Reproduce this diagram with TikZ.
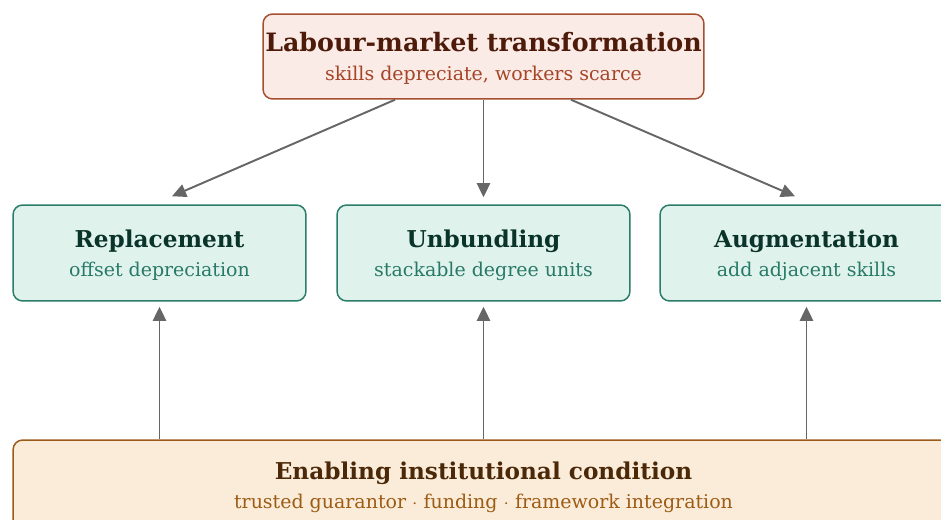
\documentclass[tikz,border=0pt]{standalone}
\usepackage{fontspec}
\setmainfont{DejaVu Serif}
\usetikzlibrary{arrows.meta,calc}
\definecolor{causefill}{RGB}{250, 235, 230}
\definecolor{causeline}{RGB}{166, 78, 48}
\definecolor{causetitle}{RGB}{78, 26, 10}
\definecolor{causetext}{RGB}{166, 68, 40}
\definecolor{pathfill}{RGB}{224, 242, 236}
\definecolor{pathline}{RGB}{42, 125, 104}
\definecolor{pathtitle}{RGB}{10, 52, 42}
\definecolor{pathtext}{RGB}{40, 122, 102}
\definecolor{basefill}{RGB}{251, 236, 218}
\definecolor{baseline}{RGB}{156, 90, 26}
\definecolor{basetitle}{RGB}{74, 40, 8}
\definecolor{basetext}{RGB}{156, 92, 20}
\definecolor{arrowgray}{RGB}{102, 102, 102}
\newcommand{\headline}[1]{\fontsize{13.2}{16.4}\selectfont\bfseries #1}
\newcommand{\subline}[1]{\fontsize{10.8}{16.4}\selectfont\mdseries #1}
\tikzset{
	box/.style={rounded corners=5.5pt, line width=0.85pt, align=center, inner sep=0pt, text depth=-0.6pt, font=\fontsize{10.8}{16.4}\selectfont},
	cause/.style={box, draw=causeline, fill=causefill, minimum width=8.82cm, minimum height=1.7cm},
	path/.style={box, draw=pathline, fill=pathfill, minimum width=5.86cm, minimum height=1.92cm},
	base/.style={box, draw=baseline, fill=basefill, minimum width=18.82cm, minimum height=1.8cm},
	flow/.style={draw=arrowgray, line width=1.1pt, -{Triangle[length=8pt, width=7.5pt]}}
}

\begin{document}
\begin{tikzpicture}[x=0.02cm, y=-0.02cm]
			\useasboundingbox (0, 0) rectangle (941, 520);
			\node [cause] (labour) at (483.5, 56.5) {\fontsize{14.4}{16.4}\selectfont\bfseries\color{causetitle}Labour-market transformation\\ \color{causetext}\subline{skills depreciate, workers scarce}};
			\node [path] (replace) at (159.5, 253) {\color{pathtitle}\headline{Replacement}\\ \color{pathtext}\subline{offset depreciation}};
			\node [path] (unbundle) at (483.5, 253) {\color{pathtitle}\headline{Unbundling}\\ \color{pathtext}\subline{stackable degree units}};
			\node [path] (augment) at (806.5, 253) {\color{pathtitle}\headline{Augmentation}\\ \color{pathtext}\subline{add adjacent skills}};
			\node [base] (enable) at (483.5, 485) {\color{basetitle}\headline{Enabling institutional condition}\\ \color{basetext}\subline{trusted guarantor $\cdot$ funding $\cdot$ framework integration}};
			\draw [flow] ($(labour.south)+(-88.5, 0)$) -- ($(replace.north)+(12.5, -8)$);
			\draw [flow] (labour.south) -- ($(unbundle.north)+(0, -7)$);
			\draw [flow] ($(labour.south)+(87.5, 0)$) -- ($(augment.north)+(-11.5, -8)$);
			\draw [flow] (enable.north -| replace.south) -- ($(replace.south)+(0, 5)$);
			\draw [flow] (enable.north -| unbundle.south) -- ($(unbundle.south)+(0, 5)$);
			\draw [flow] (enable.north -| augment.south) -- ($(augment.south)+(0, 5)$);
		\end{tikzpicture}
\end{document}
